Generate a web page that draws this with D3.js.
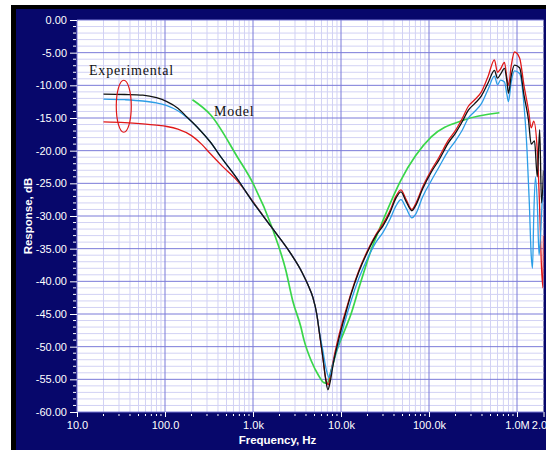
<!DOCTYPE html>
<html><head><meta charset="utf-8">
<script src="https://cdn.jsdelivr.net/npm/d3@7"></script>
<style>html,body{margin:0;padding:0;background:#fff;}svg{display:block;}</style>
</head><body>
<svg id="c" width="551" height="450"></svg>
<script>
// ---- data ----
const xTickValues = [10, 100, 1000, 10000, 100000, 1000000, 2000000];
const xTickLabels = ["10.0", "100.0", "1.0k", "10.0k", "100.0k", "1.0M", "2.0M"];
const yTickValues = [0, -5, -10, -15, -20, -25, -30, -35, -40, -45, -50, -55, -60];
const yTickLabels = ["0.00", "-5.00", "-10.00", "-15.00", "-20.00", "-25.00", "-30.00", "-35.00", "-40.00", "-45.00", "-50.00", "-55.00", "-60.00"];

const blackSeries = [[20,-11.35],[35,-11.4],[56,-11.5],[80,-11.9],[105,-12.5],[140,-13.5],[176,-14.8],[240,-16.6],[324,-18.6],[450,-21.3],[653,-24.2],[1000,-27.9],[1600,-31.6],[2700,-35.8],[3600,-38.6],[4200,-40.5],[4800,-42.5],[5300,-45],[5700,-48],[6200,-51.5],[6700,-55],[7100,-56.6],[7500,-55.5],[8200,-52.5],[9000,-50],[10000,-47.5],[11500,-44.5],[13000,-42],[16000,-38.5],[20000,-35.5],[25000,-33],[30000,-31.5],[36000,-29.5],[42000,-27.3],[48000,-26.3],[55000,-27.8],[64000,-29.2],[70000,-28.5],[85000,-25.8],[106000,-23.3],[130000,-21.4],[166000,-18.8],[200000,-17.3],[240000,-15.5],[280000,-13.8],[330000,-12.8],[394000,-11.6],[470000,-9.6],[554000,-7.7],[600000,-8.9],[650000,-8.3],[720000,-7.4],[770000,-9.5],[800000,-11.2],[860000,-8.5],[936000,-6.9],[1070000,-7.3],[1200000,-11.5],[1350000,-15.3],[1450000,-19],[1580000,-18.5],[1700000,-24],[1810000,-16.8],[1900000,-28],[2000000,-23]];
const blueSeries = [[20,-12.1],[35,-12.2],[56,-12.4],[80,-12.7],[105,-13.1],[140,-13.9],[176,-14.9],[240,-16.6],[324,-18.6],[450,-21.3],[653,-24.2],[1000,-27.9],[1600,-31.6],[2700,-35.8],[3600,-38.6],[4200,-40.5],[4800,-42.5],[5300,-45],[5700,-47.8],[6200,-50.5],[6800,-53.5],[7300,-54.7],[7800,-53.5],[8500,-51.5],[9500,-49.5],[11000,-46.3],[13000,-43],[16000,-39.5],[20000,-36.5],[25000,-34],[30000,-32.5],[36000,-30.5],[42000,-28.5],[48000,-27.5],[55000,-28.8],[64000,-30.3],[70000,-29.8],[85000,-27],[106000,-24.6],[130000,-22.5],[166000,-20],[200000,-18.5],[240000,-16.8],[280000,-15],[330000,-14],[394000,-12.8],[470000,-10.6],[554000,-8.6],[600000,-9.9],[650000,-9.2],[720000,-9.5],[770000,-11.5],[800000,-12.5],[860000,-9.5],[936000,-7.8],[1070000,-8.2],[1200000,-13],[1300000,-20],[1380000,-28],[1450000,-36],[1500000,-38],[1550000,-30],[1620000,-24],[1700000,-28],[1780000,-36],[1850000,-33],[1950000,-27],[2000000,-26]];
const redSeries = [[20,-15.6],[35,-15.7],[56,-15.9],[80,-16.1],[105,-16.3],[140,-16.7],[200,-17.7],[260,-19],[324,-20.4],[450,-22.4],[653,-24.5],[1000,-27.8],[1600,-31.6],[2700,-35.8],[3600,-38.6],[4200,-40.5],[4800,-42.5],[5300,-45],[5700,-48],[6200,-51.5],[6800,-55.3],[7200,-55.8],[7600,-54.2],[8200,-52],[9000,-49.5],[10000,-47],[11500,-44.2],[13000,-41.8],[16000,-38.3],[20000,-35.3],[25000,-32.8],[30000,-31.2],[36000,-29.2],[42000,-27],[48000,-26],[55000,-27.5],[64000,-29],[70000,-28.2],[85000,-25.5],[106000,-23],[130000,-21],[166000,-18.4],[200000,-16.9],[240000,-15],[280000,-13.2],[330000,-12.2],[394000,-11],[470000,-8.6],[554000,-6.1],[600000,-8],[650000,-7.5],[720000,-6.5],[770000,-9],[800000,-10],[860000,-7],[936000,-4.9],[1070000,-5.8],[1200000,-10],[1350000,-13.8],[1450000,-16.5],[1550000,-15.5],[1700000,-20],[1800000,-28],[1900000,-38],[1970000,-41],[2000000,-33]];
const modelSeries = [[205,-12.2],[329,-14.5],[667,-21],[1000,-25],[1670,-32],[2360,-38.3],[2830,-43],[3500,-47],[3800,-49],[4600,-52.2],[5500,-54.3],[6400,-55.5],[7000,-55.6],[7600,-54],[9000,-50.5],[11000,-47.5],[13000,-45],[16000,-41],[22000,-35.2],[28500,-31.4],[48000,-24.5],[106000,-17.9],[250000,-15.3],[631000,-14.2]];

// ---- layout ----
const svg = d3.select("#c");
const L = 77, R = 543.5, T = 20, B = 412;
const x = d3.scaleLog().domain([10, 2000000]).range([L, R]);
const y = d3.scaleLinear().domain([-60, 0]).range([B, T]);

// frame
svg.append("rect").attr("x", 11).attr("y", 5).attr("width", 535).attr("height", 445).attr("fill", "#000000");
svg.append("rect").attr("x", 16).attr("y", 9).attr("width", 530).attr("height", 441).attr("fill", "#07076b");
svg.append("rect").attr("x", L).attr("y", T).attr("width", R - L).attr("height", B - T).attr("fill", "#ffffff");

// grid
const minorX = [];
for (let d = 10; d < 2000000; d *= 10) for (let k = 2; k <= 9; k++) { const v = d * k; if (v < 2000000) minorX.push(v); }
const majorX = [10, 100, 1000, 10000, 100000, 1000000];
const minorY = d3.range(-60, 1, 1).filter(v => v % 5 !== 0);
const majorY = d3.range(-60, 1, 5);
const g = svg.append("g");
g.selectAll(".mx").data(minorX).join("line").attr("x1", d => x(d)).attr("x2", d => x(d)).attr("y1", T).attr("y2", B).attr("stroke", "#d2d2f4").attr("stroke-width", 1);
g.selectAll(".my").data(minorY).join("line").attr("x1", L).attr("x2", R).attr("y1", d => y(d)).attr("y2", d => y(d)).attr("stroke", "#d2d2f4").attr("stroke-width", 1);
g.selectAll(".Mx").data(majorX).join("line").attr("x1", d => x(d)).attr("x2", d => x(d)).attr("y1", T).attr("y2", B).attr("stroke", "#7a7ad8").attr("stroke-width", 1);
g.selectAll(".My").data(majorY).join("line").attr("x1", L).attr("x2", R).attr("y1", d => y(d)).attr("y2", d => y(d)).attr("stroke", "#7a7ad8").attr("stroke-width", 1);

// axes
const yAxis = d3.axisLeft(y).tickValues(yTickValues).tickFormat((d, i) => yTickLabels[i]).tickSize(7).tickPadding(3);
const ya = svg.append("g").attr("transform", `translate(${L},0)`).call(yAxis);
ya.select(".domain").remove();
ya.selectAll("line").attr("stroke", "#fff");
ya.selectAll("text").attr("fill", "#fff").attr("font-family", "Liberation Sans, Arial, sans-serif").attr("font-size", 11);
svg.append("g").selectAll("line").data(minorY).join("line")
  .attr("x1", L - 4).attr("x2", L - 1).attr("y1", d => y(d)).attr("y2", d => y(d)).attr("stroke", "#fff");

const xAxis = d3.axisBottom(x).tickValues(xTickValues).tickFormat((d, i) => xTickLabels[i]).tickSize(5).tickPadding(4);
const xa = svg.append("g").attr("transform", `translate(0,${B})`).call(xAxis);
xa.select(".domain").remove();
xa.selectAll("line").attr("stroke", "#fff");
xa.selectAll("text").attr("fill", "#fff").attr("font-family", "Liberation Sans, Arial, sans-serif").attr("font-size", 11);
svg.append("g").selectAll("line").data(minorX).join("line")
  .attr("x1", d => x(d)).attr("x2", d => x(d)).attr("y1", B + 2).attr("y2", B + 4).attr("stroke", "#fff");

// clip the right side as in the original frame
svg.append("rect").attr("x", 546).attr("y", 0).attr("width", 5).attr("height", 450).attr("fill", "#fff");

// titles
svg.append("text").attr("x", 277.5).attr("y", 444).attr("text-anchor", "middle").attr("fill", "#fff")
  .attr("font-family", "Liberation Sans, Arial, sans-serif").attr("font-weight", "bold").attr("font-size", 11.5).text("Frequency, Hz");
svg.append("text").attr("transform", "translate(32,216) rotate(-90)").attr("text-anchor", "middle").attr("fill", "#fff")
  .attr("font-family", "Liberation Sans, Arial, sans-serif").attr("font-weight", "bold").attr("font-size", 11.5).text("Response, dB");

// lines
svg.append("clipPath").attr("id", "pc").append("rect").attr("x", L).attr("y", T).attr("width", R - L).attr("height", B - T);
const lineSmooth = d3.line().x(d => x(d[0])).y(d => y(d[1])).curve(d3.curveMonotoneX);
const pg = svg.append("g").attr("clip-path", "url(#pc)");
pg.append("path").datum(modelSeries).attr("d", lineSmooth).attr("fill", "none").attr("stroke", "#3ad64a").attr("stroke-width", 1.7);
pg.append("path").datum(redSeries).attr("d", lineSmooth).attr("fill", "none").attr("stroke", "#e01818").attr("stroke-width", 1.3);
pg.append("path").datum(blueSeries).attr("d", lineSmooth).attr("fill", "none").attr("stroke", "#2c9ee6").attr("stroke-width", 1.3);
pg.append("path").datum(blackSeries).attr("d", lineSmooth).attr("fill", "none").attr("stroke", "#111111").attr("stroke-width", 1.3);

// annotations
svg.append("ellipse").attr("cx", x(34)).attr("cy", y(-13.2)).attr("rx", 7.5).attr("ry", 26).attr("fill", "none").attr("stroke", "#e01818").attr("stroke-width", 1.2);
svg.append("text").attr("x", 89).attr("y", 75).attr("fill", "#111").attr("font-family", "Liberation Serif, Times New Roman, serif").attr("font-size", 14).attr("letter-spacing", 0.8).text("Experimental");
svg.append("text").attr("x", 214).attr("y", 116).attr("fill", "#111").attr("font-family", "Liberation Serif, Times New Roman, serif").attr("font-size", 14).attr("letter-spacing", 0.8).text("Model");
</script>
</body></html>
